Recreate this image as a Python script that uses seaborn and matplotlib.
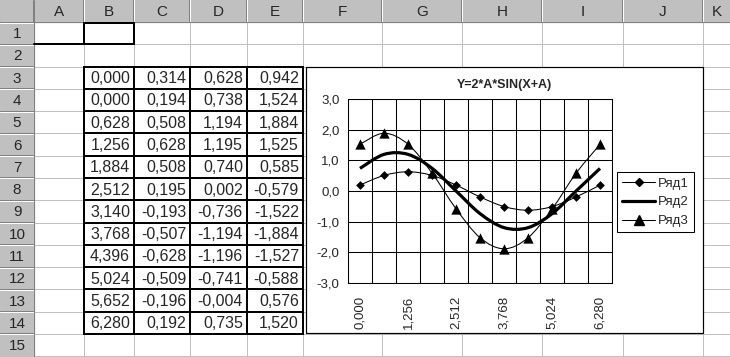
import numpy as np
import pandas as pd
import matplotlib
matplotlib.use("Agg")
import matplotlib.pyplot as plt
from matplotlib.path import Path
from matplotlib.patches import PathPatch, Rectangle
from matplotlib.lines import Line2D
import matplotlib.ticker as mticker
import seaborn as sns

# Данные таблицы (B3:E14)
a_values = [0.000, 0.314, 0.628, 0.942]
x_values = [0.000, 0.628, 1.256, 1.884, 2.512, 3.140, 3.768, 4.396, 5.024, 5.652, 6.280]
ryad1 = [0.194, 0.508, 0.628, 0.508, 0.195, -0.193, -0.507, -0.628, -0.509, -0.196, 0.192]
ryad2 = [0.738, 1.194, 1.195, 0.740, 0.002, -0.736, -1.194, -1.196, -0.741, -0.004, 0.735]
ryad3 = [1.524, 1.884, 1.525, 0.585, -0.579, -1.522, -1.884, -1.527, -0.588, 0.576, 1.520]
series_names = ["Ряд1", "Ряд2", "Ряд3"]
col_letters = ["A", "B", "C", "D", "E", "F", "G", "H", "I", "J", "K"]
chart_title = "Y=2*A*SIN(X+A)"

sns.set_style("white")
plt.rcParams["font.family"] = ["Liberation Sans", "DejaVu Sans"]

W, H = 730, 357
fig = plt.figure(figsize=(W / 100, H / 100), dpi=100)
fig.patch.set_facecolor("white")

# фон листа в пиксельных координатах
bg = fig.add_axes([0, 0, 1, 1])
bg.set_xlim(0, W)
bg.set_ylim(H, 0)
bg.axis("off")

PX = 0.72  # 1 px в пунктах
col_edges = [34, 84, 134, 190, 247, 303, 382, 462, 542, 623, 703, 730]
hdr_h = 22
row_h = 22.28
row_edges = [hdr_h + i * row_h for i in range(16)]
grid_c = "#c0c0c0"

# сетка ячеек
for x in col_edges[1:-1]:
    bg.plot([x, x], [hdr_h, H], color=grid_c, lw=PX, zorder=1)
for y in row_edges[1:]:
    bg.plot([col_edges[0], W], [y, y], color=grid_c, lw=PX, zorder=1)

# заголовки
bg.add_patch(Rectangle((0, 0), W, hdr_h, color="#c0c0c0", zorder=2))
bg.add_patch(Rectangle((0, 0), col_edges[0], H, color="#c0c0c0", zorder=2))
for i, x in enumerate(col_edges[:-1]):
    bg.plot([x - 1, x - 1], [0, hdr_h], color="#808080", lw=PX, zorder=3)
    bg.plot([x, x], [0, hdr_h], color="white", lw=PX, zorder=3)
    if i < len(col_letters):
        bg.text((x + col_edges[i + 1]) / 2, hdr_h / 2 + 1, col_letters[i],
                ha="center", va="center", fontsize=11, zorder=4)
for i, y in enumerate(row_edges[:-1]):
    bg.plot([0, col_edges[0]], [y - 0.5, y - 0.5], color="#808080", lw=PX, zorder=3)
    bg.plot([0, col_edges[0]], [y + 0.5, y + 0.5], color="white", lw=PX, zorder=3)
    if i < 15:
        bg.text(col_edges[0] / 2, y + row_h / 2 + 1, str(i + 1),
                ha="center", va="center", fontsize=11, zorder=4)
bg.plot([0, W], [hdr_h, hdr_h], color="#808080", lw=PX, zorder=3)
bg.plot([col_edges[0], col_edges[0]], [0, H], color="#808080", lw=PX, zorder=3)

# активная ячейка B1 и граница A1
bg.plot([col_edges[0], col_edges[1]], [row_edges[1], row_edges[1]], color="black", lw=2 * PX, zorder=5)
bg.add_patch(Rectangle((col_edges[1], row_edges[0] + 1), col_edges[2] - col_edges[1],
                       row_edges[1] - row_edges[0] - 1, fill=False, ec="black", lw=2 * PX, zorder=5))


def fmt(v, nd=3):
    return f"{v:.{nd}f}".replace(".", ",")


# таблица значений
columns = [x_values, ryad1, ryad2, ryad3]
for j in range(4):
    xl, xr = col_edges[1 + j], col_edges[2 + j]
    cells = [a_values[j]] + list(columns[j])
    for i, v in enumerate(cells):
        yt = row_edges[2 + i]
        bg.text(xr - 4, yt + row_h / 2 + 1, fmt(v), ha="right", va="center", fontsize=11.5, zorder=6)
tl, tr = col_edges[1], col_edges[5]
tt, tb = row_edges[2], row_edges[14]
for x in col_edges[1:6]:
    bg.plot([x, x], [tt, tb], color="black", lw=2 * PX, zorder=6, solid_capstyle="projecting")
for y in row_edges[2:15]:
    bg.plot([tl, tr], [y, y], color="black", lw=2 * PX, zorder=6, solid_capstyle="projecting")

# область диаграммы
bg.add_patch(Rectangle((306, 67), 703 - 306, 333 - 67, fc="white", ec="black", lw=1.2 * PX, zorder=7))

pl, pr, pt, pb = 348, 612, 99, 283
ax = fig.add_axes([pl / W, 1 - pb / H, (pr - pl) / W, (pb - pt) / H])
ax.set_facecolor("white")

idx = np.arange(len(x_values))
df = pd.DataFrame({"idx": idx, series_names[0]: ryad1, series_names[1]: ryad2, series_names[2]: ryad3})


def smooth_path(xs, ys):
    pts = np.column_stack([xs, ys]).astype(float)
    ext = np.vstack([pts[0], pts, pts[-1]])
    verts = [pts[0]]
    codes = [Path.MOVETO]
    for i in range(len(pts) - 1):
        p0, p1, p2, p3 = ext[i], ext[i + 1], ext[i + 2], ext[i + 3]
        verts += [p1 + (p2 - p0) / 6, p2 - (p3 - p1) / 6, p2]
        codes += [Path.CURVE4] * 3
    return Path(verts, codes)


for name, lw in [(series_names[0], 0.75), (series_names[2], 0.75), (series_names[1], 2.3)]:
    ax.add_patch(PathPatch(smooth_path(df["idx"], df[name]), fill=False, ec="black", lw=lw, zorder=4))

sns.scatterplot(data=df, x="idx", y=series_names[0], marker="D", s=20, color="black",
                edgecolor="black", linewidth=0, ax=ax, zorder=5)
sns.scatterplot(data=df, x="idx", y=series_names[2], marker="^", s=55, color="black",
                edgecolor="black", linewidth=0, ax=ax, zorder=5)

ax.set_xlim(-0.5, len(x_values) - 0.5)
ax.set_ylim(-3, 3)
ax.set_xlabel("")
ax.set_ylabel("")
ax.yaxis.set_major_locator(mticker.MultipleLocator(1))
ax.yaxis.set_major_formatter(mticker.FuncFormatter(lambda v, p: fmt(v, 1)))
ax.set_xticks(idx[::2])
ax.set_xticklabels([fmt(v) for v in x_values[::2]], rotation=90)
ax.set_xticks(np.arange(-0.5, len(x_values)), minor=True)
ax.tick_params(axis="x", which="major", length=0, pad=9, labelsize=9.5)
ax.tick_params(axis="x", which="minor", length=4, width=0.75, direction="out", color="black")
ax.tick_params(axis="y", which="major", length=4, width=0.75, direction="out", color="black",
               labelsize=9.5, pad=2)
ax.grid(False)
ax.yaxis.grid(True, color="black", lw=0.75)
ax.xaxis.grid(True, which="minor", color="black", lw=0.75)
for s in ax.spines.values():
    s.set_color("black")
    s.set_linewidth(0.75)

fig.text(504 / W, 1 - 85 / H, chart_title, ha="center", va="center", fontsize=9, fontweight="bold", zorder=10)

handles = [
    Line2D([], [], color="black", lw=0.75, marker="D", markersize=4),
    Line2D([], [], color="black", lw=2.3),
    Line2D([], [], color="black", lw=0.75, marker="^", markersize=7),
]
leg = fig.legend(handles, series_names, loc="upper left", bbox_to_anchor=(617 / W, 1 - 172 / H),
                 borderaxespad=0, fancybox=False, edgecolor="black", framealpha=1, fontsize=9.5,
                 handlelength=2.5, handletextpad=0.2, labelspacing=0.5, borderpad=0.4)
leg.get_frame().set_linewidth(0.75)

fig.savefig("out.png", dpi=100)
